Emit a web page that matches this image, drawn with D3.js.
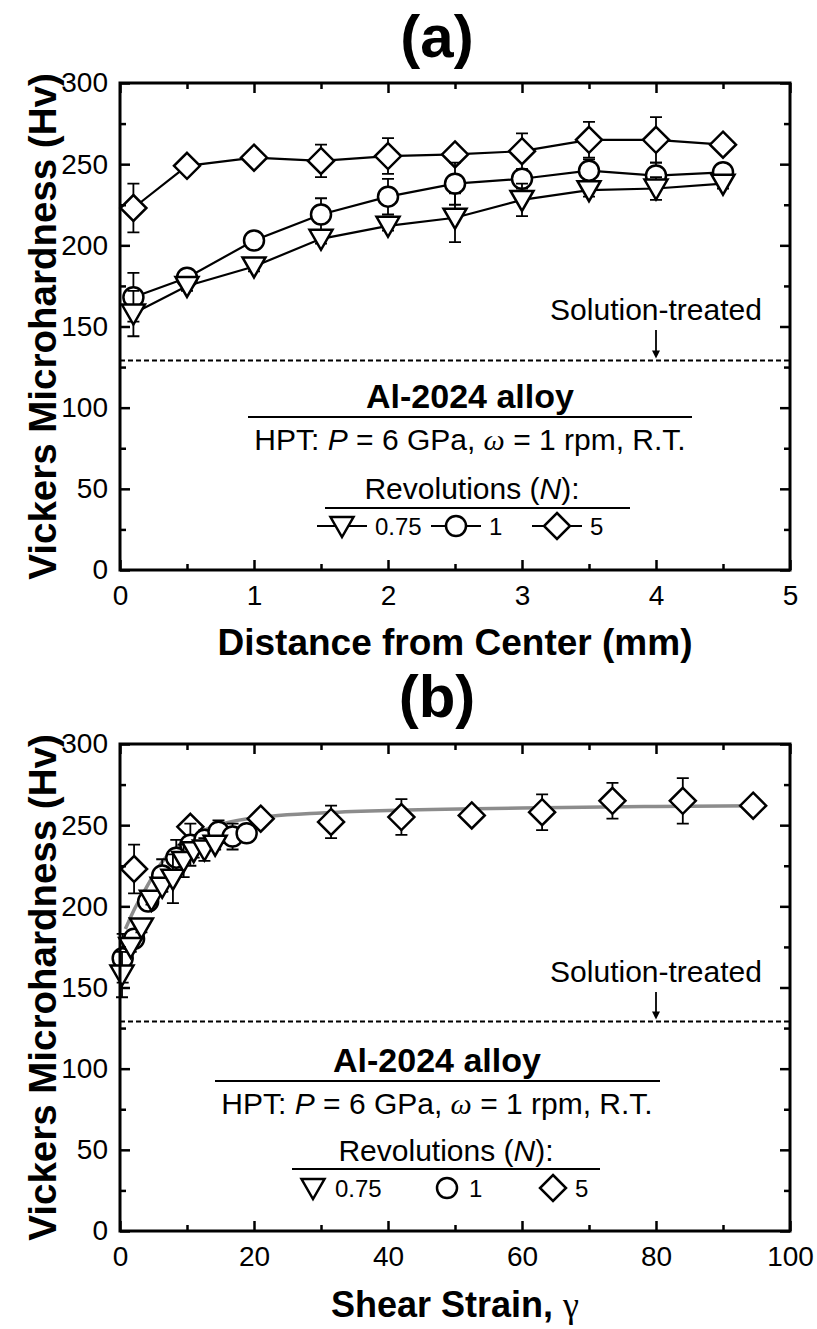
<!DOCTYPE html>
<html>
<head>
<meta charset="utf-8">
<script src="https://cdn.jsdelivr.net/npm/d3@7"></script>
<style>
  body { margin: 0; background: #fff; }
  svg { display: block; }
</style>
</head>
<body>
<div id="container"></div>
<script>
// hardness readings (Hv) for each number of revolutions
let distance = [0.1, 0.5, 1, 1.5, 2, 2.5, 3, 3.5, 4, 4.5]
let hvN075 = [158, 175, 187, 204, 212, 217, 228, 234, 235, 238]
let errN075 = [14, 3, 3, 3, 3, 15, 10, 4, 7, 3]
let hvN1 = [168, 180, 203, 219, 230, 238, 241, 246, 243, 245]
let errN1 = [15, 3, 3, 10, 11, 13, 6, 7, 8, 3]
let hvN5 = [223, 249, 254, 252, 255, 256, 258, 265, 265, 262]
let errN5 = [15, 3, 3, 10, 11, 3, 11, 11, 14, 3]

// shear strain of the same points (panel b)
let strainN075 = [0.3, 1.6, 3.2, 4.7, 6.3, 7.9, 9.5, 11.0, 12.6, 14.2]
let strainN1 = [0.4, 2.1, 4.2, 6.3, 8.4, 10.5, 12.6, 14.7, 16.8, 18.9]
let strainN5 = [2.1, 10.5, 21, 31.5, 42, 52.5, 63, 73.5, 84, 94.5]

// grey trend curve in panel b
let fitStrain = [0.8, 2, 3.6, 5.1, 6.6, 8.6, 11.6, 15.5, 22.5, 30, 40, 60, 80, 95]
let fitHv = [186, 197, 209, 220, 229, 237, 245, 251, 255.5, 257.5, 259, 260.5, 261.5, 262]

let solutionTreated = 129

// ticks
let yTicks = [0, 50, 100, 150, 200, 250, 300]
let yMinor = [25, 75, 125, 175, 225, 275]
let xTicksA = [0, 1, 2, 3, 4, 5]
let xMinorA = [0.5, 1.5, 2.5, 3.5, 4.5]
let xTicksB = [0, 20, 40, 60, 80, 100]
let xMinorB = [10, 30, 50, 70, 90]

let seriesLabels = ['0.75', '1', '5']

// set up
let width = 817,
  height = 1329
let left = 120,
  right = 790

let svg = d3.select('#container')
  .append('svg')
  .attr('width', width)
  .attr('height', height)
  .style('font-family', 'Arial, "Liberation Sans", sans-serif')

// marker shapes, open with white fill
function marker(g, type, cx, cy) {
  let m
  if (type === 'tri') {
    m = g.append('path').attr('d', `M${cx - 11.5},${cy - 9} L${cx + 11.5},${cy - 9} L${cx},${cy + 11} Z`)
  } else if (type === 'circle') {
    m = g.append('circle').attr('cx', cx).attr('cy', cy).attr('r', 10)
  } else {
    m = g.append('path').attr('d', `M${cx},${cy - 13} L${cx + 13},${cy} L${cx},${cy + 13} L${cx - 13},${cy} Z`)
  }
  m.attr('fill', '#fff').attr('stroke', '#000').attr('stroke-width', 2.5).attr('stroke-linejoin', 'miter')
}

function frame(g, x, y, xTicks, xMinor) {
  let b = y.range()[0], t = y.range()[1]

  // major ticks with labels, pointing in
  g.append('g').attr('transform', `translate(0,${b})`)
    .call(d3.axisBottom(x).tickValues(xTicks).tickFormat(d3.format('d'))
      .tickSizeInner(-10).tickSizeOuter(0).tickPadding(15))
  g.append('g').attr('transform', `translate(${left},0)`)
    .call(d3.axisLeft(y).tickValues(yTicks).tickFormat(d3.format('d'))
      .tickSizeInner(-10).tickSizeOuter(0).tickPadding(12))
  g.append('g').attr('transform', `translate(0,${t})`)
    .call(d3.axisTop(x).tickValues(xTicks).tickSizeInner(-10).tickSizeOuter(0).tickFormat(''))
  g.append('g').attr('transform', `translate(${right},0)`)
    .call(d3.axisRight(y).tickValues(yTicks).tickSizeInner(-10).tickSizeOuter(0).tickFormat(''))

  // minor ticks
  g.append('g').attr('transform', `translate(0,${b})`)
    .call(d3.axisBottom(x).tickValues(xMinor).tickSizeInner(-6).tickSizeOuter(0).tickFormat(''))
  g.append('g').attr('transform', `translate(0,${t})`)
    .call(d3.axisTop(x).tickValues(xMinor).tickSizeInner(-6).tickSizeOuter(0).tickFormat(''))
  g.append('g').attr('transform', `translate(${left},0)`)
    .call(d3.axisLeft(y).tickValues(yMinor).tickSizeInner(-6).tickSizeOuter(0).tickFormat(''))
  g.append('g').attr('transform', `translate(${right},0)`)
    .call(d3.axisRight(y).tickValues(yMinor).tickSizeInner(-6).tickSizeOuter(0).tickFormat(''))

  g.selectAll('.domain').remove()
  g.selectAll('.tick line').attr('stroke', '#000').attr('stroke-width', 2.5)
  g.selectAll('.tick text').attr('font-size', 28).attr('fill', '#000').attr('font-family', 'Arial, "Liberation Sans", sans-serif')

  g.append('rect')
    .attr('x', left).attr('y', t)
    .attr('width', right - left).attr('height', b - t)
    .attr('fill', 'none').attr('stroke', '#000').attr('stroke-width', 3)

  g.append('text')
    .attr('transform', `translate(42,${(t + b) / 2}) rotate(-90)`)
    .attr('text-anchor', 'middle')
    .attr('dominant-baseline', 'central')
    .attr('font-size', 38.5).attr('font-weight', 'bold')
    .text('Vickers Microhardness (Hv)')
}

function errorBars(g, x, y, xs, ys, es) {
  xs.forEach((d, i) => {
    let cx = x(d), y0 = y(ys[i] - es[i]), y1 = y(ys[i] + es[i])
    g.append('path')
      .attr('d', `M${cx},${y0} L${cx},${y1} M${cx - 6},${y0} L${cx + 6},${y0} M${cx - 6},${y1} L${cx + 6},${y1}`)
      .attr('stroke', '#000').attr('stroke-width', 1.8).attr('fill', 'none')
  })
}

function solutionLine(g, x, y, textY) {
  let yd = y(solutionTreated)
  g.append('line')
    .attr('x1', left).attr('x2', right).attr('y1', yd).attr('y2', yd)
    .attr('stroke', '#000').attr('stroke-width', 2).attr('stroke-dasharray', '5,3')
  let ax = x(x.domain()[1] * 0.8)
  g.append('text')
    .attr('x', ax).attr('y', textY)
    .attr('text-anchor', 'middle').attr('font-size', 30)
    .text('Solution-treated')
  g.append('line')
    .attr('x1', ax).attr('x2', ax).attr('y1', textY + 10).attr('y2', yd - 8)
    .attr('stroke', '#000').attr('stroke-width', 1.8)
  g.append('path')
    .attr('d', `M${ax - 4},${yd - 10} L${ax + 4},${yd - 10} L${ax},${yd - 2} Z`)
    .attr('fill', '#000')
}

function infoBlock(g, cx, alloyY, line1, revY, line2, revX) {
  g.append('text')
    .attr('x', cx).attr('y', alloyY)
    .attr('text-anchor', 'middle').attr('font-size', 34).attr('font-weight', 'bold')
    .text('Al-2024 alloy')
  g.append('line')
    .attr('x1', line1[0]).attr('x2', line1[1]).attr('y1', line1[2]).attr('y2', line1[2])
    .attr('stroke', '#000').attr('stroke-width', 2)

  let hpt = g.append('text')
    .attr('x', cx).attr('y', alloyY + 42)
    .attr('text-anchor', 'middle').attr('font-size', 30)
  hpt.append('tspan').text('HPT: ')
  hpt.append('tspan').attr('font-style', 'italic').text('P')
  hpt.append('tspan').text(' = 6 GPa, ')
  hpt.append('tspan').attr('font-style', 'italic').attr('font-family', '"Liberation Serif", serif').text('ω')
  hpt.append('tspan').text(' = 1 rpm, R.T.')

  let rev = g.append('text')
    .attr('x', revX).attr('y', revY)
    .attr('text-anchor', 'middle').attr('font-size', 30)
  rev.append('tspan').text('Revolutions (')
  rev.append('tspan').attr('font-style', 'italic').text('N')
  rev.append('tspan').text('):')
  g.append('line')
    .attr('x1', line2[0]).attr('x2', line2[1]).attr('y1', line2[2]).attr('y2', line2[2])
    .attr('stroke', '#000').attr('stroke-width', 2)
}

function legendItems(g, cy, pos, withLines) {
  let types = ['tri', 'circle', 'diamond']
  types.forEach((type, i) => {
    let mx = pos[i]
    if (withLines) {
      g.append('line')
        .attr('x1', mx - 25).attr('x2', mx + 25).attr('y1', cy).attr('y2', cy)
        .attr('stroke', '#000').attr('stroke-width', 2)
    }
    marker(g, type, mx, cy)
    g.append('text')
      .attr('x', mx + (withLines ? 33 : 22)).attr('y', cy)
      .attr('dominant-baseline', 'central').attr('font-size', 24)
      .text(seriesLabels[i])
  })
}

// ---------- panel (a) ----------
let ga = svg.append('g')
let xa = d3.scaleLinear().domain([0, 5]).range([left, right])
let ya = d3.scaleLinear().domain([0, 300]).range([570, 83])

ga.append('text')
  .attr('x', 437).attr('y', 57)
  .attr('text-anchor', 'middle').attr('font-size', 60).attr('font-weight', 'bold')
  .text('(a)')

solutionLine(ga, xa, ya, 320)
infoBlock(ga, 470, 408, [248, 692, 417], 499, [325, 630, 508], 472)
legendItems(ga, 526, [342, 456, 557], true)

let seriesA = [
  { type: 'diamond', hv: hvN5, err: errN5 },
  { type: 'circle', hv: hvN1, err: errN1 },
  { type: 'tri', hv: hvN075, err: errN075 }
]
let lineA = d3.line().x(d => xa(d[0])).y(d => ya(d[1]))
seriesA.forEach(s => {
  let pts = distance.map((d, i) => [d, s.hv[i]])
  ga.append('path').attr('d', lineA(pts))
    .attr('fill', 'none').attr('stroke', '#000').attr('stroke-width', 2.2)
  errorBars(ga, xa, ya, distance, s.hv, s.err)
  pts.forEach(p => marker(ga, s.type, xa(p[0]), ya(p[1])))
})

frame(ga, xa, ya, xTicksA, xMinorA)

ga.append('text')
  .attr('x', 455).attr('y', 655)
  .attr('text-anchor', 'middle').attr('font-size', 37).attr('font-weight', 'bold')
  .text('Distance from Center (mm)')

// ---------- panel (b) ----------
let gb = svg.append('g')
let xb = d3.scaleLinear().domain([0, 100]).range([left, right])
let yb = d3.scaleLinear().domain([0, 300]).range([1231, 744])

gb.append('text')
  .attr('x', 437).attr('y', 717)
  .attr('text-anchor', 'middle').attr('font-size', 60).attr('font-weight', 'bold')
  .text('(b)')

solutionLine(gb, xb, yb, 982)
infoBlock(gb, 437, 1072, [215, 660, 1081], 1161, [292, 600, 1169], 446)
legendItems(gb, 1188, [313, 447, 553], false)

let fitLine = d3.line().curve(d3.curveMonotoneX).x(d => xb(d[0])).y(d => yb(d[1]))
gb.append('path')
  .attr('d', fitLine(fitStrain.map((d, i) => [d, fitHv[i]])))
  .attr('fill', 'none').attr('stroke', '#8c8c8c').attr('stroke-width', 3.5)

let seriesB = [
  { type: 'diamond', x: strainN5, hv: hvN5, err: errN5 },
  { type: 'circle', x: strainN1, hv: hvN1, err: errN1 },
  { type: 'tri', x: strainN075, hv: hvN075, err: errN075 }
]
seriesB.forEach(s => {
  errorBars(gb, xb, yb, s.x, s.hv, s.err)
  s.x.forEach((d, i) => marker(gb, s.type, xb(d), yb(s.hv[i])))
})

frame(gb, xb, yb, xTicksB, xMinorB)

let xl = gb.append('text')
  .attr('x', 455).attr('y', 1317)
  .attr('text-anchor', 'middle').attr('font-size', 36)
xl.append('tspan').attr('font-weight', 'bold').text('Shear Strain, ')
xl.append('tspan').attr('font-family', '"Liberation Serif", serif').text('γ')
</script>
</body>
</html>
